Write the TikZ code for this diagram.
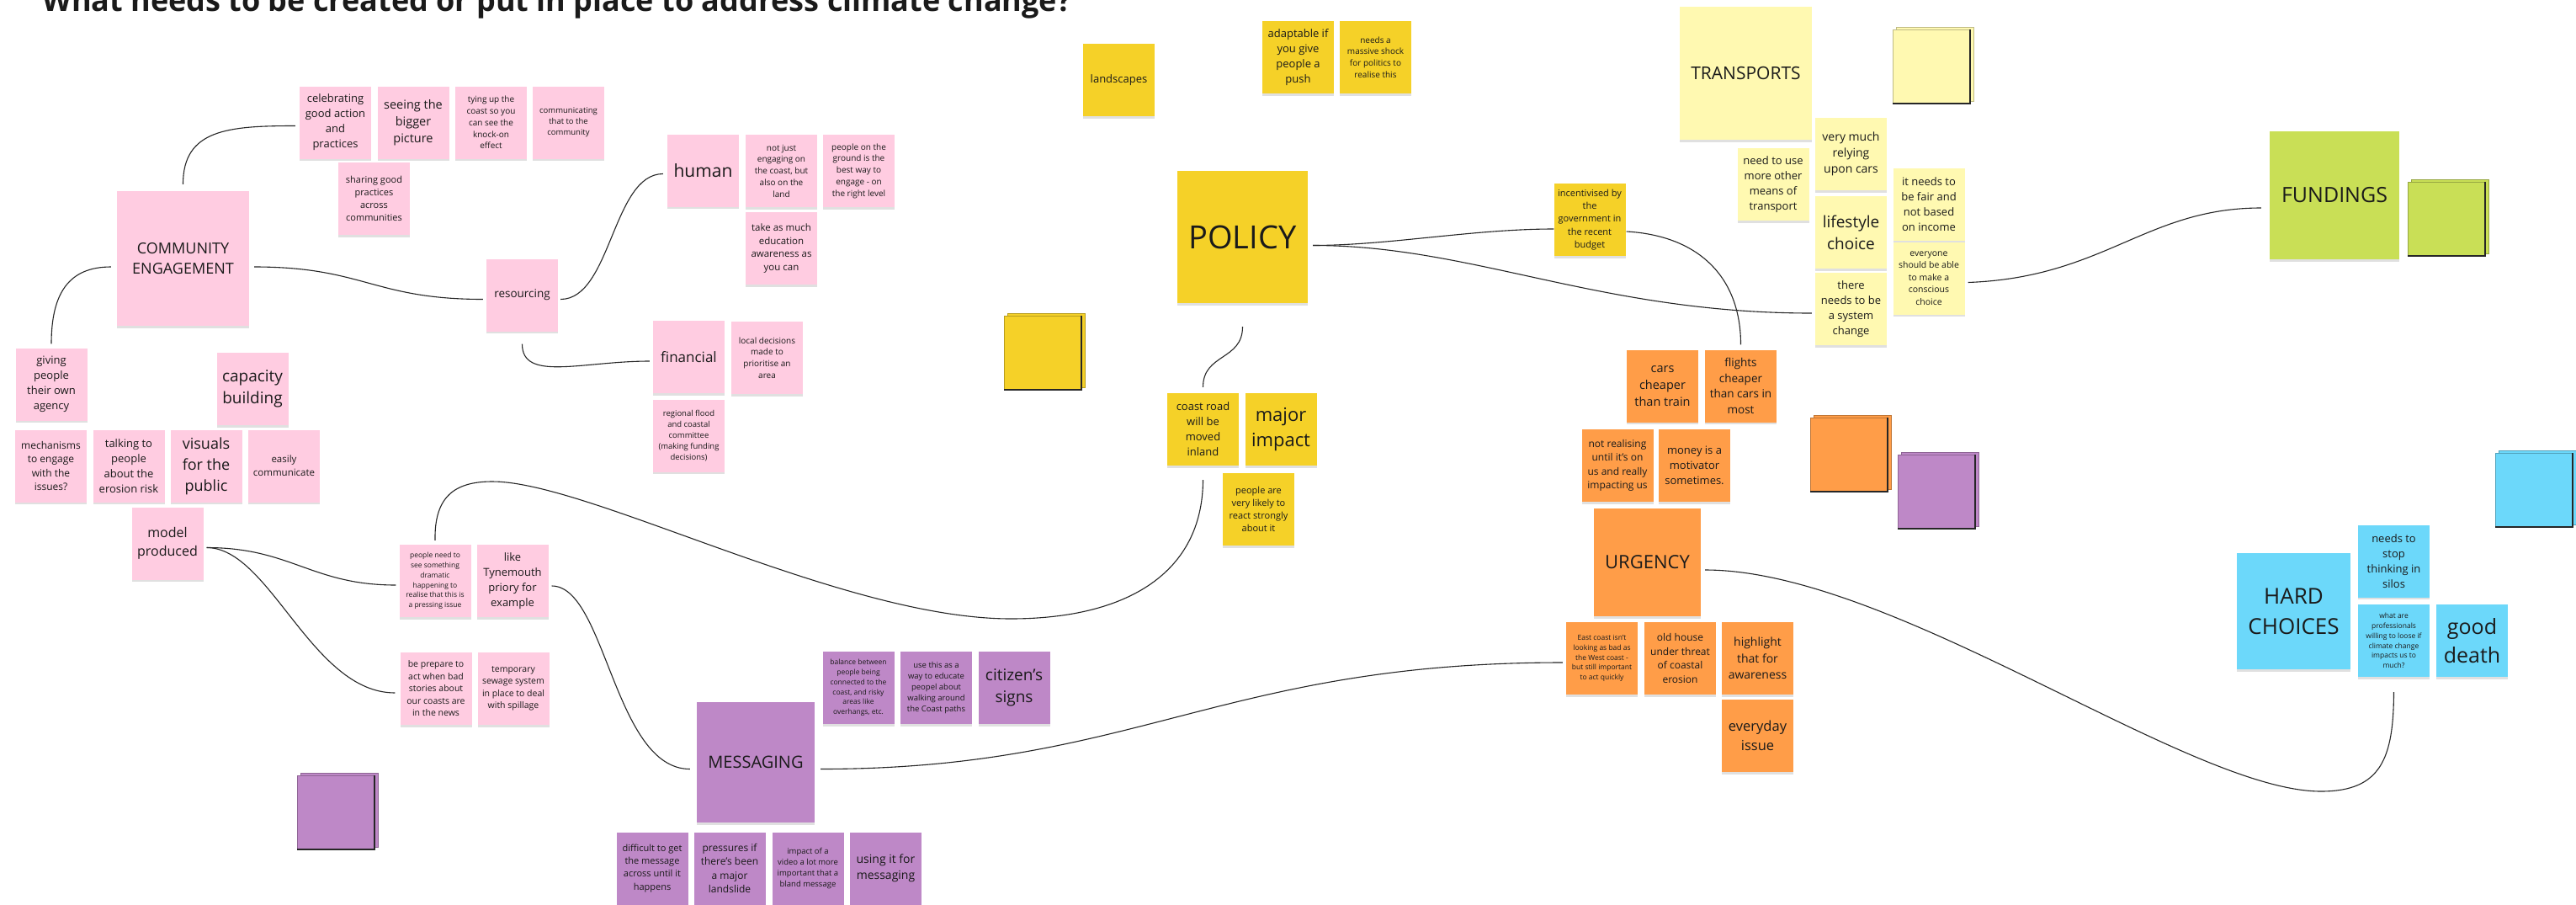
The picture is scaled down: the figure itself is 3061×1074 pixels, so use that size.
\documentclass[tikz,border=0pt]{standalone}
\usepackage{fontspec}
\setmainfont{Open Sans}
\usetikzlibrary{shadows}
\definecolor{pinkc}{HTML}{FFCCE1}
\definecolor{yelc}{HTML}{F5D128}
\definecolor{lyc}{HTML}{FFF9B1}
\definecolor{orc}{HTML}{FF9D48}
\definecolor{puc}{HTML}{BE88C7}
\definecolor{grc}{HTML}{C9DF56}
\definecolor{blc}{HTML}{6CD8FA}
\definecolor{txtc}{HTML}{1A1A1A}
\newcommand\stacknote[3]{%
 \fill[#3] (#1+4,#2) rectangle (#1+96,#2+88);
 \draw[#3!75!black, line width=0.6pt] (#1+4,#2) rectangle (#1+96,#2+88);
 \fill[#3] (#1,#2+3) rectangle (#1+92,#2+91);
 \draw[#3!75!black, line width=0.6pt] (#1,#2+91) -- (#1,#2+3) -- (#1+92,#2+3);
 \draw[black!85, line width=1.6pt] (#1,#2+91) -- (#1+92,#2+91) -- (#1+92,#2+3);
}
\begin{document}
\begin{tikzpicture}[x=1pt,y=-1pt,
  note/.style={rectangle, inner sep=0pt, align=center, text=txtc, minimum width=85pt, minimum height=86pt,
    drop shadow={shadow xshift=0pt, shadow yshift=-2.5pt, opacity=0.12, fill=black}},
  fs/.style={font=\fontsize{#1}{\fpeval{1.38*#1}}\selectfont},
  sz/.style 2 args={minimum width=#1pt, minimum height=#2pt},
  pk/.style={note, fill=pinkc},
  ye/.style={note, fill=yelc},
  ly/.style={note, fill=lyc},
  og/.style={note, fill=orc},
  pu/.style={note, fill=puc},
  gr/.style={note, fill=grc},
  bl/.style={note, fill=blc},
  conn/.style={draw=black!85, line width=1.1pt},
]
\fill[white] (0,0) rectangle (3061,1074);
\useasboundingbox (0,0) rectangle (3061,1074);

\node[anchor=base west, font=\fontsize{36}{42}\selectfont\bfseries, text=txtc, inner sep=0pt] (title) at (50,13.5)
  {What needs to be created or put in place to address climate change?};

% ---------------- pink : community engagement
\node[pk, fs=13] (cel) at (398.5,145.5) {celebrating\\good action\\and\\practices};
\node[pk, fs=14.5] (see) at (491,145.5) {seeing the\\bigger\\picture};
\node[pk, fs=10] (tying) at (583.5,145.5) {tying up the\\coast so you\\can see the\\knock-on\\effect};
\node[pk, fs=9.5] (commun) at (675.5,145.5) {communicating\\that to the\\community};
\node[pk, fs=11] (sharing) at (444.5,236) {sharing good\\practices\\across\\communities};
\node[pk, fs=18, sz={157}{160}] (ce) at (217.5,307) {COMMUNITY\\ENGAGEMENT};
\node[pk, fs=13.5] (res) at (620.5,350.5) {resourcing};
\node[pk, fs=21] (human) at (835.5,202.5) {human};
\node[pk, fs=10] (notjust) at (928.5,203) {not just\\engaging on\\the coast, but\\also on the\\land};
\node[pk, fs=10] (ground) at (1020.5,203) {people on the\\ground is the\\best way to\\engage - on\\the right level};
\node[pk, fs=11.5] (takeas) at (928.5,295) {take as much\\education\\awareness as\\you can};
\node[pk, fs=17] (fin) at (818.5,424) {financial};
\node[pk, fs=10] (local) at (911.5,425) {local decisions\\made to\\prioritise an\\area};
\node[pk, fs=9.5] (regional) at (818.5,517.5) {regional flood\\and coastal\\committee\\(making funding\\decisions)};
\node[pk, fs=13] (giving) at (61,456.5) {giving\\people\\their own\\agency};
\node[pk, fs=19] (capacity) at (300,462) {capacity\\building};
\node[pk, fs=12] (mech) at (60.5,553.5) {mechanisms\\to engage\\with the\\issues?};
\node[pk, fs=13] (talking) at (153,553.5) {talking to\\people\\about the\\erosion risk};
\node[pk, fs=18] (visuals) at (245,553.5) {visuals\\for the\\public};
\node[pk, fs=11.5] (easily) at (337.5,553.5) {easily\\communicate};
\node[pk, fs=16] (model) at (199,645.5) {model\\produced};
\node[pk, fs=8.5] (pneed) at (517,690) {people need to\\see something\\dramatic\\happening to\\realise that this is\\a pressing issue};
\node[pk, fs=13] (tyne) at (609,690) {like\\Tynemouth\\priory for\\example};
\node[pk, fs=10.5] (beprep) at (518,818) {be prepare to\\act when bad\\stories about\\our coasts are\\in the news};
\node[pk, fs=10.5] (sewage) at (610,818) {temporary\\sewage system\\in place to deal\\with spillage};

% ---------------- purple : messaging
\node[pu, fs=20, sz={140}{143}] (msg) at (898,905.5) {MESSAGING};
\node[pu, fs=8.5] (balance) at (1020,817) {balance between\\people being\\connected to the\\coast, and risky\\areas like\\overhangs, etc.};
\node[pu, fs=9.5] (usethis) at (1112.5,817) {use this as a\\way to educate\\peopel about\\walking around\\the Coast paths};
\node[pu, fs=19] (citizen) at (1205,817) {citizen's\\signs};
\node[pu, fs=11] (difficult) at (775,1031.5) {difficult to get\\the message\\across until it\\happens};
\node[pu, fs=12] (pressures) at (867,1031.5) {pressures if\\there's been\\a major\\landslide};
\node[pu, fs=9.5] (video) at (960,1031.5) {impact of a\\video a lot more\\important that a\\bland message};
\node[pu, fs=14] (usingit) at (1052.5,1031.5) {using it for\\messaging};

% ---------------- yellow : policy
\node[ye, fs=13] (land) at (1329.5,95) {landscapes};
\node[ye, fs=13] (adapt) at (1542.5,68) {adaptable if\\you give\\people a\\push};
\node[ye, fs=10] (shock) at (1634.5,68) {needs a\\massive shock\\for politics to\\realise this};
\node[ye, fs=38, sz={155}{157}] (policy) at (1476.5,281.5) {POLICY};
\node[ye, fs=13] (coastroad) at (1429.5,510) {coast road\\will be\\moved\\inland};
\node[ye, fs=22] (major) at (1522,510) {major\\impact};
\node[ye, fs=11] (react) at (1495.5,605) {people are\\very likely to\\react strongly\\about it};
\node[ye, fs=11] (incent) at (1889,261) {incentivised by\\the\\government in\\the recent\\budget};

% ---------------- light yellow : transports
\node[ly, fs=21, sz={157}{158}] (transp) at (2074.5,87) {TRANSPORTS};
\node[ly, fs=13] (needuse) at (2107,219) {need to use\\more other\\means of\\transport};
\node[ly, fs=14] (verymuch) at (2199.5,183) {very much\\relying\\upon cars};
\node[ly, fs=19] (lifestyle) at (2199.5,276) {lifestyle\\choice};
\node[ly, fs=13] (system) at (2199.5,367) {there\\needs to be\\a system\\change};
\node[ly, fs=13] (fair) at (2292,242.5) {it needs to\\be fair and\\not based\\on income};
\node[ly, fs=10.5] (everyone) at (2292,330.5) {everyone\\should be able\\to make a\\conscious\\choice};

% ---------------- orange : urgency
\node[og, fs=14.5] (carsch) at (1975.5,458.5) {cars\\cheaper\\than train};
\node[og, fs=13.5] (flights) at (2068.5,458.5) {flights\\cheaper\\than cars in\\most};
\node[og, fs=12] (notreal) at (1922,553) {not realising\\until it's on\\us and really\\impacting us};
\node[og, fs=13] (money) at (2013.5,553) {money is a\\motivator\\sometimes.};
\node[og, fs=22, sz={127}{128}] (urgency) at (1957.5,668) {URGENCY};
\node[og, fs=8.5] (east) at (1903.5,782) {East coast isn't\\looking as bad as\\the West coast -\\but still important\\to act quickly};
\node[og, fs=12] (oldhouse) at (1996.5,782) {old house\\under threat\\of coastal\\erosion};
\node[og, fs=14] (highlight) at (2088.5,782) {highlight\\that for\\awareness};
\node[og, fs=16.5] (everyday) at (2088.5,874) {everyday\\issue};

% ---------------- green / blue
\node[gr, fs=25, sz={154}{152}] (fundings) at (2774,232) {FUNDINGS};
\node[bl, fs=26, sz={135}{138}] (hard) at (2725.5,726) {HARD\\CHOICES};
\node[bl, fs=13] (silos) at (2844.5,666.5) {needs to\\stop\\thinking in\\silos};
\node[bl, fs=8.5] (profs) at (2844.5,761) {what are\\professionals\\willing to loose if\\climate change\\impacts us to\\much?};
\node[bl, fs=25] (death) at (2937.5,761) {good\\death};

% ---------------- stacks of blank notes
\stacknote{1193}{372}{yelc}
\stacknote{2249}{32}{lyc}
\stacknote{2151}{493}{orc}
\stacknote{2255}{537}{puc}
\stacknote{2861}{213}{grc}
\stacknote{2965}{535}{blc}
\stacknote{353}{918}{puc}

% ---------------- connectors
\draw[conn] ([yshift=8pt]ce.north) .. controls +(0,-65) and +(-80,0) .. ([xshift=-5pt,yshift=-4pt]cel.west);
\draw[conn] ([xshift=-7pt,yshift=-10pt]ce.west) .. controls +(-50,0) and +(0,-60) .. ([yshift=5pt]giving.north);
\draw[conn] ([xshift=6pt,yshift=-10pt]ce.east) .. controls +(130,0) and +(-130,0) .. ([xshift=-4pt,yshift=-5pt]res.west);
\draw[conn] ([xshift=3pt,yshift=-5pt]res.east) .. controls +(60,0) and +(-60,0) .. ([xshift=-5pt,yshift=-4pt]human.west);
\draw[conn] ([yshift=-15pt]res.south) .. controls +(0,45) and +(-80,0) .. ([xshift=-4pt,yshift=-5pt]fin.west);
\draw[conn] ([xshift=4pt,yshift=-5pt]model.east) .. controls +(100,0) and +(-100,0) .. ([xshift=-4pt,yshift=-5pt]pneed.west);
\draw[conn] ([xshift=4pt,yshift=-5pt]model.east) .. controls +(75,0) and +(-99,0) .. ([xshift=-6pt,yshift=-5pt]beprep.west);
\draw[conn] ([yshift=5pt]pneed.north) .. controls (516,590) and (540,572) .. (585,572)
   .. controls (700,572) and (1000,735) .. (1201,735)
   .. controls (1340,735) and (1429,680) .. ([yshift=-17pt]coastroad.south);
\draw[conn] ([xshift=4pt,yshift=-6pt]tyne.east) .. controls +(64,0) and +(-90,0) .. ([xshift=-8pt,yshift=-8pt]msg.west);
\draw[conn] ([xshift=7pt,yshift=-8pt]msg.east) .. controls +(375,0) and +(-407,0) .. ([xshift=-4pt,yshift=-5pt]east.west);
\draw[conn] ([yshift=-28pt]policy.south) .. controls +(0,40) and +(0,-40) .. ([yshift=7pt]coastroad.north);
\draw[conn] ([xshift=6pt,yshift=-10pt]policy.east) .. controls +(90,0) and +(-96,0) .. ([xshift=0pt,yshift=-11pt]incent.west);
\draw[conn] ([xshift=6pt,yshift=-10pt]policy.east) .. controls +(190,0) and +(-253,0) .. ([xshift=-4pt,yshift=-5pt]system.west);
\draw[conn] ([xshift=1pt,yshift=-14pt]incent.east) .. controls +(87,5) and +(0,-79) .. ([yshift=6pt]flights.north);
\draw[conn] ([xshift=4pt,yshift=-5pt]everyone.east) .. controls +(162,-6) and +(-137,0) .. ([xshift=-10pt,yshift=-15pt]fundings.west);
\draw[conn] ([xshift=5pt,yshift=-9pt]urgency.east) .. controls +(224,0) and (2600,940) .. (2758,940)
   .. controls (2830,940) and (2844,900) .. ([yshift=-18pt]profs.south);
\end{tikzpicture}
\end{document}
